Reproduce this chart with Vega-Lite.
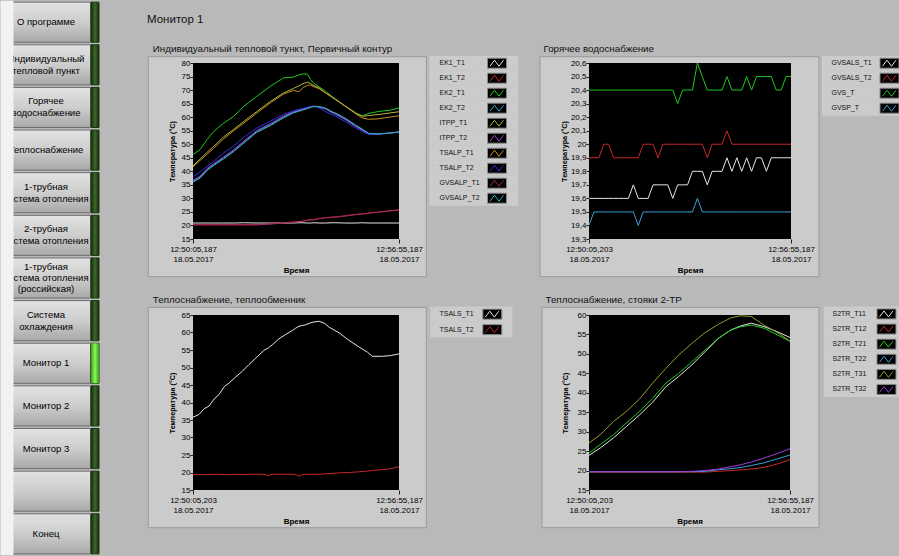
{
  "$schema": "https://vega.github.io/schema/vega-lite/v6.json",
  "background": "#b9b9b9",
  "padding": 0,
  "bounds": "flush",
  "spacing": 94,
  "resolve": {"scale": {"x": "independent", "y": "independent", "color": "independent"}},
  "config": {
    "view": {"stroke": null},
    "font": "Liberation Sans",
    "axis": {"labelFont": "Liberation Sans", "labelFontSize": 8, "labelColor": "#000", "titleFont": "Liberation Sans", "titleFontSize": 8, "titleFontWeight": "bold", "titleColor": "#000", "tickColor": "#202020", "domain": false, "grid": false, "zindex": 2, "labelOverlap": false, "labelBound": false},
    "axisY": {"titleFontSize": 7.2},
    "title": {"color": "#111", "fontWeight": "normal", "font": "Liberation Sans"}
  },
  "datasets": {
    "c1": [
      {"t":0,"EK1_T1":20.9,"EK1_T2":20.3,"EK2_T1":46.2,"EK2_T2":36.3,"ITPP_T1":42.0,"ITPP_T2":36.7,"TSALP_T1":41.6,"TSALP_T2":38.0,"GVSALP_T1":20.2,"GVSALP_T2":36.0},
      {"t":14,"EK1_T1":20.9,"EK1_T2":20.3,"EK2_T1":48.0,"EK2_T2":37.8,"ITPP_T1":44.5,"ITPP_T2":38.2,"TSALP_T1":44.0,"TSALP_T2":39.8,"GVSALP_T1":20.2,"GVSALP_T2":37.5},
      {"t":28,"EK1_T1":20.9,"EK1_T2":20.3,"EK2_T1":51.7,"EK2_T2":40.6,"ITPP_T1":47.0,"ITPP_T2":41.0,"TSALP_T1":46.3,"TSALP_T2":41.8,"GVSALP_T1":20.2,"GVSALP_T2":40.3},
      {"t":41,"EK1_T1":20.9,"EK1_T2":20.3,"EK2_T1":54.7,"EK2_T2":42.4,"ITPP_T1":49.2,"ITPP_T2":42.8,"TSALP_T1":48.5,"TSALP_T2":43.6,"GVSALP_T1":20.2,"GVSALP_T2":42.1},
      {"t":61,"EK1_T1":20.9,"EK1_T2":20.3,"EK2_T1":57.8,"EK2_T2":44.9,"ITPP_T1":52.7,"ITPP_T2":45.3,"TSALP_T1":52.0,"TSALP_T2":46.8,"GVSALP_T1":20.2,"GVSALP_T2":44.6},
      {"t":81,"EK1_T1":20.9,"EK1_T2":20.3,"EK2_T1":60.3,"EK2_T2":47.6,"ITPP_T1":55.5,"ITPP_T2":48.0,"TSALP_T1":55.0,"TSALP_T2":49.3,"GVSALP_T1":20.2,"GVSALP_T2":47.3},
      {"t":101,"EK1_T1":21.0,"EK1_T2":20.3,"EK2_T1":64.0,"EK2_T2":50.7,"ITPP_T1":58.4,"ITPP_T2":51.1,"TSALP_T1":57.8,"TSALP_T2":52.6,"GVSALP_T1":20.2,"GVSALP_T2":50.4},
      {"t":127,"EK1_T1":20.9,"EK1_T2":20.3,"EK2_T1":67.7,"EK2_T2":54.7,"ITPP_T1":62.1,"ITPP_T2":55.1,"TSALP_T1":61.5,"TSALP_T2":56.0,"GVSALP_T1":20.2,"GVSALP_T2":54.4},
      {"t":154,"EK1_T1":20.9,"EK1_T2":20.6,"EK2_T1":71.4,"EK2_T2":57.2,"ITPP_T1":65.8,"ITPP_T2":57.6,"TSALP_T1":65.3,"TSALP_T2":58.5,"GVSALP_T1":20.5,"GVSALP_T2":56.9},
      {"t":180,"EK1_T1":20.9,"EK1_T2":21.0,"EK2_T1":74.5,"EK2_T2":60.0,"ITPP_T1":68.9,"ITPP_T2":60.4,"TSALP_T1":68.5,"TSALP_T2":61.0,"GVSALP_T1":20.9,"GVSALP_T2":59.7},
      {"t":200,"EK1_T1":20.9,"EK1_T2":21.3,"EK2_T1":74.8,"EK2_T2":61.8,"ITPP_T1":70.6,"ITPP_T2":62.1,"TSALP_T1":69.9,"TSALP_T2":62.3,"GVSALP_T1":21.2,"GVSALP_T2":61.6},
      {"t":211,"EK1_T1":21.0,"EK1_T2":21.5,"EK2_T1":75.6,"EK2_T2":62.4,"ITPP_T1":71.6,"ITPP_T2":62.6,"TSALP_T1":69.4,"TSALP_T2":62.9,"GVSALP_T1":21.4,"GVSALP_T2":62.2},
      {"t":218,"EK1_T1":21.0,"EK1_T2":21.6,"EK2_T1":76.0,"EK2_T2":62.8,"ITPP_T1":72.3,"ITPP_T2":63.0,"TSALP_T1":70.8,"TSALP_T2":63.2,"GVSALP_T1":21.5,"GVSALP_T2":62.6},
      {"t":228,"EK1_T1":20.9,"EK1_T2":22.0,"EK2_T1":75.8,"EK2_T2":63.4,"ITPP_T1":72.9,"ITPP_T2":63.6,"TSALP_T1":71.8,"TSALP_T2":63.6,"GVSALP_T1":21.9,"GVSALP_T2":63.2},
      {"t":234,"EK1_T1":20.9,"EK1_T2":22.1,"EK2_T1":73.9,"EK2_T2":63.8,"ITPP_T1":72.4,"ITPP_T2":63.9,"TSALP_T1":71.8,"TSALP_T2":63.9,"GVSALP_T1":22.0,"GVSALP_T2":63.6},
      {"t":241,"EK1_T1":21.0,"EK1_T2":22.2,"EK2_T1":72.4,"EK2_T2":64.0,"ITPP_T1":71.6,"ITPP_T2":64.1,"TSALP_T1":71.2,"TSALP_T2":64.0,"GVSALP_T1":22.1,"GVSALP_T2":63.9},
      {"t":251,"EK1_T1":20.9,"EK1_T2":22.6,"EK2_T1":71.2,"EK2_T2":63.8,"ITPP_T1":70.8,"ITPP_T2":63.7,"TSALP_T1":70.5,"TSALP_T2":63.4,"GVSALP_T1":22.5,"GVSALP_T2":63.9},
      {"t":264,"EK1_T1":20.9,"EK1_T2":22.9,"EK2_T1":69.5,"EK2_T2":63.2,"ITPP_T1":69.0,"ITPP_T2":63.0,"TSALP_T1":68.9,"TSALP_T2":62.0,"GVSALP_T1":22.8,"GVSALP_T2":63.3},
      {"t":277,"EK1_T1":21.0,"EK1_T2":23.1,"EK2_T1":67.6,"EK2_T2":61.8,"ITPP_T1":67.4,"ITPP_T2":61.6,"TSALP_T1":67.3,"TSALP_T2":60.9,"GVSALP_T1":23.0,"GVSALP_T2":62.0},
      {"t":284,"EK1_T1":21.0,"EK1_T2":23.2,"EK2_T1":66.6,"EK2_T2":61.3,"ITPP_T1":66.5,"ITPP_T2":61.0,"TSALP_T1":66.4,"TSALP_T2":60.3,"GVSALP_T1":23.1,"GVSALP_T2":61.5},
      {"t":304,"EK1_T1":20.9,"EK1_T2":23.6,"EK2_T1":64.0,"EK2_T2":59.3,"ITPP_T1":64.0,"ITPP_T2":59.0,"TSALP_T1":63.9,"TSALP_T2":58.3,"GVSALP_T1":23.5,"GVSALP_T2":59.5},
      {"t":324,"EK1_T1":20.9,"EK1_T2":24.1,"EK2_T1":61.5,"EK2_T2":56.8,"ITPP_T1":61.5,"ITPP_T2":56.5,"TSALP_T1":61.2,"TSALP_T2":56.0,"GVSALP_T1":24.0,"GVSALP_T2":57.0},
      {"t":337,"EK1_T1":21.0,"EK1_T2":24.3,"EK2_T1":60.5,"EK2_T2":55.4,"ITPP_T1":60.3,"ITPP_T2":55.1,"TSALP_T1":59.7,"TSALP_T2":54.7,"GVSALP_T1":24.2,"GVSALP_T2":55.6},
      {"t":350,"EK1_T1":20.9,"EK1_T2":24.6,"EK2_T1":61.4,"EK2_T2":53.9,"ITPP_T1":60.6,"ITPP_T2":53.7,"TSALP_T1":59.2,"TSALP_T2":53.6,"GVSALP_T1":24.5,"GVSALP_T2":54.0},
      {"t":370,"EK1_T1":20.9,"EK1_T2":25.0,"EK2_T1":62.1,"EK2_T2":53.8,"ITPP_T1":61.0,"ITPP_T2":53.8,"TSALP_T1":59.4,"TSALP_T2":53.8,"GVSALP_T1":24.9,"GVSALP_T2":53.8},
      {"t":390,"EK1_T1":20.9,"EK1_T2":25.4,"EK2_T1":62.5,"EK2_T2":54.1,"ITPP_T1":61.5,"ITPP_T2":54.1,"TSALP_T1":60.0,"TSALP_T2":54.1,"GVSALP_T1":25.3,"GVSALP_T2":54.1},
      {"t":410,"EK1_T1":20.9,"EK1_T2":25.8,"EK2_T1":63.4,"EK2_T2":54.5,"ITPP_T1":62.0,"ITPP_T2":54.5,"TSALP_T1":60.5,"TSALP_T2":54.5,"GVSALP_T1":25.7,"GVSALP_T2":54.5}
    ],
    "c2": [
      {"t":0,"GVSALS_T1":19.6,"GVSALS_T2":19.9,"GVS_T":20.4,"GVSP_T":19.4},
      {"t":10,"GVSALS_T1":19.6,"GVSALS_T2":19.9,"GVS_T":20.4,"GVSP_T":19.5},
      {"t":20,"GVSALS_T1":19.6,"GVSALS_T2":19.9,"GVS_T":20.4,"GVSP_T":19.5},
      {"t":30,"GVSALS_T1":19.6,"GVSALS_T2":20.0,"GVS_T":20.4,"GVSP_T":19.5},
      {"t":40,"GVSALS_T1":19.6,"GVSALS_T2":20.0,"GVS_T":20.4,"GVSP_T":19.5},
      {"t":50,"GVSALS_T1":19.6,"GVSALS_T2":19.9,"GVS_T":20.4,"GVSP_T":19.5},
      {"t":60,"GVSALS_T1":19.6,"GVSALS_T2":19.9,"GVS_T":20.4,"GVSP_T":19.5},
      {"t":70,"GVSALS_T1":19.6,"GVSALS_T2":19.9,"GVS_T":20.4,"GVSP_T":19.5},
      {"t":80,"GVSALS_T1":19.6,"GVSALS_T2":19.9,"GVS_T":20.4,"GVSP_T":19.5},
      {"t":90,"GVSALS_T1":19.7,"GVSALS_T2":19.9,"GVS_T":20.4,"GVSP_T":19.5},
      {"t":100,"GVSALS_T1":19.6,"GVSALS_T2":19.9,"GVS_T":20.4,"GVSP_T":19.4},
      {"t":110,"GVSALS_T1":19.6,"GVSALS_T2":20.0,"GVS_T":20.4,"GVSP_T":19.5},
      {"t":120,"GVSALS_T1":19.6,"GVSALS_T2":20.0,"GVS_T":20.4,"GVSP_T":19.5},
      {"t":130,"GVSALS_T1":19.7,"GVSALS_T2":20.0,"GVS_T":20.4,"GVSP_T":19.5},
      {"t":140,"GVSALS_T1":19.7,"GVSALS_T2":19.9,"GVS_T":20.4,"GVSP_T":19.5},
      {"t":150,"GVSALS_T1":19.7,"GVSALS_T2":20.0,"GVS_T":20.4,"GVSP_T":19.5},
      {"t":160,"GVSALS_T1":19.7,"GVSALS_T2":20.0,"GVS_T":20.4,"GVSP_T":19.5},
      {"t":170,"GVSALS_T1":19.6,"GVSALS_T2":20.0,"GVS_T":20.4,"GVSP_T":19.5},
      {"t":180,"GVSALS_T1":19.7,"GVSALS_T2":20.0,"GVS_T":20.3,"GVSP_T":19.5},
      {"t":190,"GVSALS_T1":19.7,"GVSALS_T2":20.0,"GVS_T":20.4,"GVSP_T":19.5},
      {"t":200,"GVSALS_T1":19.7,"GVSALS_T2":20.0,"GVS_T":20.4,"GVSP_T":19.5},
      {"t":210,"GVSALS_T1":19.8,"GVSALS_T2":20.0,"GVS_T":20.4,"GVSP_T":19.5},
      {"t":220,"GVSALS_T1":19.8,"GVSALS_T2":20.0,"GVS_T":20.6,"GVSP_T":19.6},
      {"t":230,"GVSALS_T1":19.8,"GVSALS_T2":20.0,"GVS_T":20.5,"GVSP_T":19.5},
      {"t":240,"GVSALS_T1":19.7,"GVSALS_T2":19.9,"GVS_T":20.4,"GVSP_T":19.5},
      {"t":250,"GVSALS_T1":19.8,"GVSALS_T2":20.0,"GVS_T":20.4,"GVSP_T":19.5},
      {"t":260,"GVSALS_T1":19.8,"GVSALS_T2":20.0,"GVS_T":20.4,"GVSP_T":19.5},
      {"t":270,"GVSALS_T1":19.8,"GVSALS_T2":20.0,"GVS_T":20.4,"GVSP_T":19.5},
      {"t":280,"GVSALS_T1":19.9,"GVSALS_T2":20.1,"GVS_T":20.5,"GVSP_T":19.5},
      {"t":290,"GVSALS_T1":19.8,"GVSALS_T2":20.0,"GVS_T":20.4,"GVSP_T":19.5},
      {"t":300,"GVSALS_T1":19.9,"GVSALS_T2":20.0,"GVS_T":20.4,"GVSP_T":19.5},
      {"t":310,"GVSALS_T1":19.8,"GVSALS_T2":20.0,"GVS_T":20.4,"GVSP_T":19.5},
      {"t":320,"GVSALS_T1":19.9,"GVSALS_T2":20.0,"GVS_T":20.5,"GVSP_T":19.5},
      {"t":330,"GVSALS_T1":19.8,"GVSALS_T2":20.0,"GVS_T":20.4,"GVSP_T":19.5},
      {"t":340,"GVSALS_T1":19.9,"GVSALS_T2":20.0,"GVS_T":20.5,"GVSP_T":19.5},
      {"t":350,"GVSALS_T1":19.9,"GVSALS_T2":20.0,"GVS_T":20.5,"GVSP_T":19.5},
      {"t":360,"GVSALS_T1":19.8,"GVSALS_T2":20.0,"GVS_T":20.5,"GVSP_T":19.5},
      {"t":370,"GVSALS_T1":19.9,"GVSALS_T2":20.0,"GVS_T":20.5,"GVSP_T":19.5},
      {"t":380,"GVSALS_T1":19.9,"GVSALS_T2":20.0,"GVS_T":20.4,"GVSP_T":19.5},
      {"t":390,"GVSALS_T1":19.9,"GVSALS_T2":20.0,"GVS_T":20.4,"GVSP_T":19.5},
      {"t":400,"GVSALS_T1":19.9,"GVSALS_T2":20.0,"GVS_T":20.5,"GVSP_T":19.5},
      {"t":410,"GVSALS_T1":19.9,"GVSALS_T2":20.0,"GVS_T":20.5,"GVSP_T":19.5}
    ],
    "c3": [
      {"t":0,"TSALS_T1":35.8,"TSALS_T2":19.4},{"t":12,"TSALS_T1":36.6,"TSALS_T2":19.4},{"t":22,"TSALS_T1":38.2,"TSALS_T2":19.4},{"t":32,"TSALS_T1":39.0,"TSALS_T2":19.4},
      {"t":42,"TSALS_T1":41.0,"TSALS_T2":19.5},{"t":52,"TSALS_T1":42.3,"TSALS_T2":19.5},{"t":62,"TSALS_T1":44.5,"TSALS_T2":19.4},{"t":72,"TSALS_T1":45.6,"TSALS_T2":19.4},
      {"t":85,"TSALS_T1":47.3,"TSALS_T2":19.5},{"t":98,"TSALS_T1":48.9,"TSALS_T2":19.4},{"t":111,"TSALS_T1":50.8,"TSALS_T2":19.5},{"t":125,"TSALS_T1":52.7,"TSALS_T2":19.5},
      {"t":141,"TSALS_T1":54.9,"TSALS_T2":19.5},{"t":150,"TSALS_T1":55.6,"TSALS_T2":19.1},{"t":158,"TSALS_T1":56.5,"TSALS_T2":19.5},{"t":171,"TSALS_T1":58.2,"TSALS_T2":19.5},
      {"t":184,"TSALS_T1":59.4,"TSALS_T2":19.5},{"t":198,"TSALS_T1":60.6,"TSALS_T2":19.5},{"t":204,"TSALS_T1":61.2,"TSALS_T2":19.4},{"t":211,"TSALS_T1":61.8,"TSALS_T2":19.0},
      {"t":218,"TSALS_T1":62.0,"TSALS_T2":19.4},{"t":224,"TSALS_T1":62.2,"TSALS_T2":19.5},{"t":237,"TSALS_T1":62.9,"TSALS_T2":19.5},{"t":251,"TSALS_T1":63.2,"TSALS_T2":19.5},
      {"t":261,"TSALS_T1":62.7,"TSALS_T2":19.6},{"t":271,"TSALS_T1":61.5,"TSALS_T2":19.7},{"t":291,"TSALS_T1":59.9,"TSALS_T2":19.9},{"t":310,"TSALS_T1":57.8,"TSALS_T2":20.0},
      {"t":330,"TSALS_T1":55.9,"TSALS_T2":20.2},{"t":347,"TSALS_T1":54.4,"TSALS_T2":20.4},{"t":357,"TSALS_T1":53.2,"TSALS_T2":20.6},{"t":377,"TSALS_T1":53.2,"TSALS_T2":20.8},
      {"t":393,"TSALS_T1":53.4,"TSALS_T2":21.1},{"t":410,"TSALS_T1":53.9,"TSALS_T2":21.6}
    ],
    "c4": [
      {"t":0,"S2TR_T11":23.9,"S2TR_T12":19.6,"S2TR_T21":24.5,"S2TR_T22":19.7,"S2TR_T31":27.1,"S2TR_T32":19.7},
      {"t":23,"S2TR_T11":25.8,"S2TR_T12":19.6,"S2TR_T21":26.7,"S2TR_T22":19.7,"S2TR_T31":29.2,"S2TR_T32":19.7},
      {"t":50,"S2TR_T11":28.4,"S2TR_T12":19.6,"S2TR_T21":29.2,"S2TR_T22":19.7,"S2TR_T31":32.6,"S2TR_T32":19.7},
      {"t":76,"S2TR_T11":31.3,"S2TR_T12":19.6,"S2TR_T21":32.2,"S2TR_T22":19.7,"S2TR_T31":35.2,"S2TR_T32":19.7},
      {"t":103,"S2TR_T11":34.3,"S2TR_T12":19.6,"S2TR_T21":35.2,"S2TR_T22":19.7,"S2TR_T31":38.4,"S2TR_T32":19.7},
      {"t":130,"S2TR_T11":37.6,"S2TR_T12":19.6,"S2TR_T21":38.6,"S2TR_T22":19.7,"S2TR_T31":42.5,"S2TR_T32":19.7},
      {"t":157,"S2TR_T11":41.6,"S2TR_T12":19.6,"S2TR_T21":42.5,"S2TR_T22":19.7,"S2TR_T31":46.3,"S2TR_T32":19.7},
      {"t":183,"S2TR_T11":44.2,"S2TR_T12":19.6,"S2TR_T21":45.0,"S2TR_T22":19.7,"S2TR_T31":49.7,"S2TR_T32":19.7},
      {"t":210,"S2TR_T11":47.2,"S2TR_T12":19.6,"S2TR_T21":48.0,"S2TR_T22":19.7,"S2TR_T31":52.7,"S2TR_T32":19.8},
      {"t":237,"S2TR_T11":50.6,"S2TR_T12":19.6,"S2TR_T21":51.0,"S2TR_T22":19.8,"S2TR_T31":55.5,"S2TR_T32":20.0},
      {"t":264,"S2TR_T11":54.0,"S2TR_T12":19.8,"S2TR_T21":54.0,"S2TR_T22":20.2,"S2TR_T31":57.6,"S2TR_T32":20.4},
      {"t":290,"S2TR_T11":56.2,"S2TR_T12":20.0,"S2TR_T21":56.2,"S2TR_T22":20.5,"S2TR_T31":59.3,"S2TR_T32":21.0},
      {"t":310,"S2TR_T11":57.2,"S2TR_T12":20.2,"S2TR_T21":57.0,"S2TR_T22":20.8,"S2TR_T31":59.8,"S2TR_T32":21.5},
      {"t":331,"S2TR_T11":57.9,"S2TR_T12":20.4,"S2TR_T21":57.4,"S2TR_T22":21.3,"S2TR_T31":59.6,"S2TR_T32":22.2},
      {"t":357,"S2TR_T11":57.0,"S2TR_T12":20.8,"S2TR_T21":56.6,"S2TR_T22":22.0,"S2TR_T31":57.4,"S2TR_T32":23.2},
      {"t":384,"S2TR_T11":55.7,"S2TR_T12":21.7,"S2TR_T21":54.9,"S2TR_T22":23.0,"S2TR_T31":55.5,"S2TR_T32":24.4},
      {"t":410,"S2TR_T11":54.2,"S2TR_T12":22.8,"S2TR_T21":53.2,"S2TR_T22":24.0,"S2TR_T31":53.3,"S2TR_T32":25.6}
    ],
    "menu": [
      {"id":"1","lbl":"О программе","on":0},
      {"id":"2","lbl":"Индивидуальный\nтепловой пункт","on":0},
      {"id":"3","lbl":"Горячее\nводоснабжение","on":0},
      {"id":"4","lbl":"Теплоснабжение","on":0},
      {"id":"5","lbl":"1-трубная\nсистема отопления","on":0},
      {"id":"6","lbl":"2-трубная\nсистема отопления","on":0},
      {"id":"7","lbl":"1-трубная\nсистема отопления\n(российская)","on":0},
      {"id":"8","lbl":"Система\nохлаждения","on":0},
      {"id":"9","lbl":"Монитор 1","on":1},
      {"id":"10","lbl":"Монитор 2","on":0},
      {"id":"11","lbl":"Монитор 3","on":0},
      {"id":"12","lbl":"","on":0},
      {"id":"13","lbl":"Конец","on":0}
    ]
  },
  "hconcat": [
    {
      "width": 97,
      "height": 429,
      "title": {"text": "Монитор 1", "anchor": "start", "frame": "group", "dx": 145, "offset": -25, "fontSize": 11.5, "color": "#111"},
      "data": {"name": "menu"},
      "encoding": {
        "y": {"field": "id", "type": "nominal", "axis": null, "scale": {"type": "band", "domain": ["1","2","3","4","5","6","7","8","9","10","11","12","13"], "range": [-63, 493], "paddingInner": 0.06, "paddingOuter": 0.05}}
      },
      "layer": [
        {"mark": {"type": "rect", "stroke": "#6e6e6e", "strokeWidth": 1, "fill": {"gradient": "linear", "x1": 0, "y1": 0, "x2": 0, "y2": 1, "stops": [{"offset": 0, "color": "#e2e2e2"}, {"offset": 0.5, "color": "#cdcdcd"}, {"offset": 1, "color": "#a9a9a9"}]}},
         "encoding": {"x": {"datum": 10.5, "type": "quantitative", "scale": {"domain": [0, 97], "nice": false, "zero": false}, "axis": null}, "x2": {"datum": 88.5}}},
        {"transform": [{"filter": "length(split(datum.lbl, '\\n')) == 1"}],
         "mark": {"type": "text", "fontSize": 9.5, "color": "#000", "baseline": "middle", "align": "center"},
         "encoding": {"x": {"datum": 44, "type": "quantitative"}, "text": {"field": "lbl"}}},
        {"transform": [{"filter": "length(split(datum.lbl, '\\n')) == 2"}],
         "mark": {"type": "text", "fontSize": 9.5, "lineBreak": "\n", "lineHeight": 12, "dy": -6, "color": "#000", "baseline": "middle", "align": "center"},
         "encoding": {"x": {"datum": 44, "type": "quantitative"}, "text": {"field": "lbl"}}},
        {"transform": [{"filter": "length(split(datum.lbl, '\\n')) == 3"}],
         "mark": {"type": "text", "fontSize": 9.5, "lineBreak": "\n", "lineHeight": 11, "dy": -11, "color": "#000", "baseline": "middle", "align": "center"},
         "encoding": {"x": {"datum": 44, "type": "quantitative"}, "text": {"field": "lbl"}}},
        {"mark": {"type": "rect", "fill": "#f2f2f2", "stroke": "#f2f2f2", "strokeWidth": 3},
         "encoding": {"x": {"datum": 0, "type": "quantitative"}, "x2": {"datum": 10}}},
        {"mark": {"type": "rect", "stroke": "#1c3410", "strokeWidth": 1, "fill": {"gradient": "linear", "x1": 0, "y1": 0, "x2": 1, "y2": 0, "stops": [{"offset": 0, "color": "#142a0c"}, {"offset": 0.5, "color": "#3d6a28"}, {"offset": 1, "color": "#142a0c"}]}},
         "encoding": {"x": {"datum": 89, "type": "quantitative"}, "x2": {"datum": 97}}},
        {"transform": [{"filter": "datum.on == 1"}],
         "mark": {"type": "rect", "fill": {"gradient": "linear", "x1": 0, "y1": 0, "x2": 1, "y2": 0, "stops": [{"offset": 0, "color": "#3a9a18"}, {"offset": 0.5, "color": "#86ff50"}, {"offset": 1, "color": "#3a9a18"}]}},
         "encoding": {"x": {"datum": 89, "type": "quantitative"}, "x2": {"datum": 97}}}
      ]
    },
    {
      "concat": [
        {
          "width": 206, "height": 176,
          "title": {"text": "Индивидуальный тепловой тункт, Первичный контур", "anchor": "start", "frame": "bounds", "dx": 5, "offset": 2, "fontSize": 9.8},
          "resolve": {"scale": {"y": "independent"}},
          "layer": [
            {"layer": [
              {"data": {"values": [{}]}, "mark": {"type": "rect", "fill": "#cbcbcb", "stroke": "#9a9a9a", "strokeWidth": 1},
               "encoding": {
                 "x": {"datum": -89, "type": "quantitative", "title": "Время", "scale": {"domain": [0, 410], "nice": false, "zero": false},
                       "axis": {"zindex": 2, "values": [0, 410], "tickCount": 50, "labelExpr": "datum.value < 1 ? ['12:50:05,187', '18.05.2017'] : ['12:56:55,187', '18.05.2017']", "labelFlush": false, "labelOverlap": false, "tickSize": 4, "labelPadding": 2, "labelLineHeight": 10, "titlePadding": 3}},
                 "x2": {"datum": 464.4},
                 "y": {"datum": 82.33, "type": "quantitative", "title": "Температура (°C)", "scale": {"domain": [15, 80], "nice": false, "zero": false},
                       "axis": {"zindex": 2, "values": [15,20,25,30,35,40,45,50,55,60,65,70,75,80], "tickCount": 50, "tickSize": 3, "labelPadding": 0, "titlePadding": 5, "titleFontSize": 7.2, "labelOverlap": false}},
                 "y2": {"datum": 1.08}}},
              {"data": {"values": [{}]}, "mark": {"type": "rect", "fill": "#000"},
               "encoding": {"x": {"datum": 0, "type": "quantitative"}, "x2": {"datum": 410}, "y": {"datum": 15, "type": "quantitative"}, "y2": {"datum": 80}}},
              {"data": {"name": "c1"},
               "transform": [{"fold": ["EK1_T1","EK1_T2","EK2_T1","EK2_T2","ITPP_T1","ITPP_T2","TSALP_T1","TSALP_T2","GVSALP_T1","GVSALP_T2"], "as": ["s", "v"]}],
               "mark": {"type": "line", "strokeWidth": 1},
               "encoding": {
                 "x": {"field": "t", "type": "quantitative", "title": "Время"},
                 "y": {"field": "v", "type": "quantitative", "title": "Температура (°C)"},
                 "color": {"field": "s", "type": "nominal", "legend": null, "scale": {"domain": ["EK1_T1","EK1_T2","EK2_T1","EK2_T2","ITPP_T1","ITPP_T2","TSALP_T1","TSALP_T2","GVSALP_T1","GVSALP_T2"], "range": ["#e6e6e6","#c82828","#1ec81e","#38a0d8","#b4b43c","#a43cdc","#c88c1e","#3232dc","#a02870","#32b4b4"]}}
               }}
            ]},
            {"data": {"values": [{"s":"EK1_T1"},{"s":"EK1_T2"},{"s":"EK2_T1"},{"s":"EK2_T2"},{"s":"ITPP_T1"},{"s":"ITPP_T2"},{"s":"TSALP_T1"},{"s":"TSALP_T2"},{"s":"GVSALP_T1"},{"s":"GVSALP_T2"}]},
             "encoding": {"y": {"field": "s", "type": "nominal", "axis": null, "scale": {"type": "band", "domain": ["EK1_T1","EK1_T2","EK2_T1","EK2_T2","ITPP_T1","ITPP_T2","TSALP_T1","TSALP_T2","GVSALP_T1","GVSALP_T2"], "range": [-7.3, 142.7], "paddingInner": 0, "paddingOuter": 0}}},
             "layer": [
               {"mark": {"type": "rect", "fill": "#cbcbcb"}, "encoding": {"x": {"datum": 470.3, "type": "quantitative"}, "x2": {"datum": 647.5}}},
               {"mark": {"type": "text", "align": "left", "baseline": "middle", "fontSize": 7, "color": "#111"}, "encoding": {"x": {"datum": 490.6, "type": "quantitative"}, "text": {"field": "s"}}},
               {"mark": {"type": "point", "shape": "M-0.95,-0.5L0.95,-0.5L0.95,0.5L-0.95,0.5Z", "size": 400, "filled": true, "fill": "#000", "stroke": "#8a8a8a", "strokeWidth": 1, "opacity": 1}, "encoding": {"x": {"datum": 605.1, "type": "quantitative"}}},
               {"mark": {"type": "point", "shape": "M-0.7,0.3L-0.25,-0.3L0.2,0.3L0.65,-0.3", "size": 400, "filled": false, "strokeWidth": 1, "opacity": 1}, "encoding": {"x": {"datum": 605.1, "type": "quantitative"}, "color": {"field": "s", "type": "nominal", "legend": null}}}
             ]}
          ]
        },
        {
          "width": 202, "height": 176,
          "title": {"text": "Горячее водоснабжение", "anchor": "start", "frame": "bounds", "dx": 4, "offset": 2, "fontSize": 9.8},
          "resolve": {"scale": {"y": "independent"}},
          "layer": [
            {"layer": [
              {"data": {"values": [{}]}, "mark": {"type": "rect", "fill": "#cbcbcb", "stroke": "#9a9a9a", "strokeWidth": 1},
               "encoding": {
                 "x": {"datum": -99.5, "type": "quantitative", "title": "Время", "scale": {"domain": [0, 410], "nice": false, "zero": false},
                       "axis": {"zindex": 2, "values": [0, 410], "tickCount": 50, "labelExpr": "datum.value < 1 ? ['12:50:05,203', '18.05.2017'] : ['12:56:55,187', '18.05.2017']", "labelFlush": false, "labelOverlap": false, "tickSize": 4, "labelPadding": 2, "labelLineHeight": 10, "titlePadding": 3}},
                 "x2": {"datum": 466.8},
                 "y": {"datum": 20.6465, "type": "quantitative", "title": "Температура (°C)", "scale": {"domain": [19.3, 20.6], "nice": false, "zero": false},
                       "axis": {"zindex": 2, "values": [19.3,19.4,19.5,19.6,19.7,19.8,19.9,20,20.1,20.2,20.3,20.4,20.5,20.6], "tickCount": 50, "labelExpr": "replace(format(datum.value, '.3~g'), '.', ',')", "tickSize": 3, "labelPadding": 0, "titlePadding": 2, "titleFontSize": 7.2, "labelOverlap": false}},
                 "y2": {"datum": 19.0216}}},
              {"data": {"values": [{}]}, "mark": {"type": "rect", "fill": "#000"},
               "encoding": {"x": {"datum": 0, "type": "quantitative"}, "x2": {"datum": 410}, "y": {"datum": 19.3, "type": "quantitative"}, "y2": {"datum": 20.6}}},
              {"data": {"name": "c2"},
               "transform": [{"fold": ["GVSALS_T1","GVSALS_T2","GVS_T","GVSP_T"], "as": ["s", "v"]}],
               "mark": {"type": "line", "strokeWidth": 1},
               "encoding": {
                 "x": {"field": "t", "type": "quantitative", "title": "Время"},
                 "y": {"field": "v", "type": "quantitative", "title": "Температура (°C)"},
                 "color": {"field": "s", "type": "nominal", "legend": null, "scale": {"domain": ["GVSALS_T1","GVSALS_T2","GVS_T","GVSP_T"], "range": ["#e6e6e6","#c82828","#1ec81e","#38a0d8"]}}
               }}
            ]},
            {"data": {"values": [{"s":"GVSALS_T1"},{"s":"GVSALS_T2"},{"s":"GVS_T"},{"s":"GVSP_T"}]},
             "encoding": {"y": {"field": "s", "type": "nominal", "axis": null, "scale": {"type": "band", "domain": ["GVSALS_T1","GVSALS_T2","GVS_T","GVSP_T"], "range": [-7.3, 52.7], "paddingInner": 0, "paddingOuter": 0}}},
             "layer": [
               {"mark": {"type": "rect", "fill": "#cbcbcb"}, "encoding": {"x": {"datum": 472.9, "type": "quantitative"}, "x2": {"datum": 632.3}}},
               {"mark": {"type": "text", "align": "left", "baseline": "middle", "fontSize": 7, "color": "#111"}, "encoding": {"x": {"datum": 492.2, "type": "quantitative"}, "text": {"field": "s"}}},
               {"mark": {"type": "point", "shape": "M-0.95,-0.5L0.95,-0.5L0.95,0.5L-0.95,0.5Z", "size": 400, "filled": true, "fill": "#000", "stroke": "#8a8a8a", "strokeWidth": 1, "opacity": 1}, "encoding": {"x": {"datum": 609.9, "type": "quantitative"}}},
               {"mark": {"type": "point", "shape": "M-0.7,0.3L-0.25,-0.3L0.2,0.3L0.65,-0.3", "size": 400, "filled": false, "strokeWidth": 1, "opacity": 1}, "encoding": {"x": {"datum": 609.9, "type": "quantitative"}, "color": {"field": "s", "type": "nominal", "legend": null}}}
             ]}
          ]
        },
        {
          "width": 206, "height": 175,
          "title": {"text": "Теплоснабжение, теплообменник", "anchor": "start", "frame": "bounds", "dx": 5, "offset": 2, "fontSize": 9.8},
          "resolve": {"scale": {"y": "independent"}},
          "layer": [
            {"layer": [
              {"data": {"values": [{}]}, "mark": {"type": "rect", "fill": "#cbcbcb", "stroke": "#9a9a9a", "strokeWidth": 1},
               "encoding": {
                 "x": {"datum": -89, "type": "quantitative", "title": "Время", "scale": {"domain": [0, 410], "nice": false, "zero": false},
                       "axis": {"zindex": 2, "values": [0, 410], "tickCount": 50, "labelExpr": "datum.value < 1 ? ['12:50:05,203', '18.05.2017'] : ['12:56:55,187', '18.05.2017']", "labelFlush": false, "labelOverlap": false, "tickSize": 4, "labelPadding": 2, "labelLineHeight": 10, "titlePadding": 3}},
                 "x2": {"datum": 464.4},
                 "y": {"datum": 67.17, "type": "quantitative", "title": "Температура (°C)", "scale": {"domain": [15, 65], "nice": false, "zero": false},
                       "axis": {"zindex": 2, "values": [15,20,25,30,35,40,45,50,55,60,65], "tickCount": 50, "tickSize": 3, "labelPadding": 0, "titlePadding": 5, "titleFontSize": 7.2, "labelOverlap": false}},
                 "y2": {"datum": 4.23}}},
              {"data": {"values": [{}]}, "mark": {"type": "rect", "fill": "#000"},
               "encoding": {"x": {"datum": 0, "type": "quantitative"}, "x2": {"datum": 410}, "y": {"datum": 15, "type": "quantitative"}, "y2": {"datum": 65}}},
              {"data": {"name": "c3"},
               "transform": [{"fold": ["TSALS_T1","TSALS_T2"], "as": ["s", "v"]}],
               "mark": {"type": "line", "strokeWidth": 1},
               "encoding": {
                 "x": {"field": "t", "type": "quantitative", "title": "Время"},
                 "y": {"field": "v", "type": "quantitative", "title": "Температура (°C)"},
                 "color": {"field": "s", "type": "nominal", "legend": null, "scale": {"domain": ["TSALS_T1","TSALS_T2"], "range": ["#e6e6e6","#c82828"]}}
               }}
            ]},
            {"data": {"values": [{"s":"TSALS_T1"},{"s":"TSALS_T2"}]},
             "encoding": {"y": {"field": "s", "type": "nominal", "axis": null, "scale": {"type": "band", "domain": ["TSALS_T1","TSALS_T2"], "range": [-8.6, 22.4], "paddingInner": 0, "paddingOuter": 0}}},
             "layer": [
               {"mark": {"type": "rect", "fill": "#cbcbcb"}, "encoding": {"x": {"datum": 472.3, "type": "quantitative"}, "x2": {"datum": 635.5}}},
               {"mark": {"type": "text", "align": "left", "baseline": "middle", "fontSize": 7, "color": "#111"}, "encoding": {"x": {"datum": 490.6, "type": "quantitative"}, "text": {"field": "s"}}},
               {"mark": {"type": "point", "shape": "M-0.95,-0.5L0.95,-0.5L0.95,0.5L-0.95,0.5Z", "size": 400, "filled": true, "fill": "#000", "stroke": "#8a8a8a", "strokeWidth": 1, "opacity": 1}, "encoding": {"x": {"datum": 595.7, "type": "quantitative"}}},
               {"mark": {"type": "point", "shape": "M-0.7,0.3L-0.25,-0.3L0.2,0.3L0.65,-0.3", "size": 400, "filled": false, "strokeWidth": 1, "opacity": 1}, "encoding": {"x": {"datum": 595.7, "type": "quantitative"}, "color": {"field": "s", "type": "nominal", "legend": null}}}
             ]}
          ]
        },
        {
          "width": 201, "height": 175,
          "title": {"text": "Теплоснабжение, стояки 2-ТР", "anchor": "start", "frame": "bounds", "dx": 4, "offset": 2, "fontSize": 9.8},
          "resolve": {"scale": {"y": "independent"}},
          "layer": [
            {"layer": [
              {"data": {"values": [{}]}, "mark": {"type": "rect", "fill": "#cbcbcb", "stroke": "#9a9a9a", "strokeWidth": 1},
               "encoding": {
                 "x": {"datum": -95.9, "type": "quantitative", "title": "Время", "scale": {"domain": [0, 410], "nice": false, "zero": false},
                       "axis": {"zindex": 2, "values": [0, 410], "tickCount": 50, "labelExpr": "datum.value < 1 ? ['12:50:05,203', '18.05.2017'] : ['12:56:55,187', '18.05.2017']", "labelFlush": false, "labelOverlap": false, "tickSize": 4, "labelPadding": 2, "labelLineHeight": 10, "titlePadding": 3}},
                 "x2": {"datum": 469.2},
                 "y": {"datum": 61.95, "type": "quantitative", "title": "Температура (°C)", "scale": {"domain": [15, 60], "nice": false, "zero": false},
                       "axis": {"zindex": 2, "values": [15,20,25,30,35,40,45,50,55,60], "tickCount": 50, "tickSize": 3, "labelPadding": 0, "titlePadding": 8, "titleFontSize": 7.2, "labelOverlap": false}},
                 "y2": {"datum": 5.31}}},
              {"data": {"values": [{}]}, "mark": {"type": "rect", "fill": "#000"},
               "encoding": {"x": {"datum": 0, "type": "quantitative"}, "x2": {"datum": 410}, "y": {"datum": 15, "type": "quantitative"}, "y2": {"datum": 60}}},
              {"data": {"name": "c4"},
               "transform": [{"fold": ["S2TR_T11","S2TR_T12","S2TR_T21","S2TR_T22","S2TR_T31","S2TR_T32"], "as": ["s", "v"]}],
               "mark": {"type": "line", "strokeWidth": 1},
               "encoding": {
                 "x": {"field": "t", "type": "quantitative", "title": "Время"},
                 "y": {"field": "v", "type": "quantitative", "title": "Температура (°C)"},
                 "color": {"field": "s", "type": "nominal", "legend": null, "scale": {"domain": ["S2TR_T11","S2TR_T12","S2TR_T21","S2TR_T22","S2TR_T31","S2TR_T32"], "range": ["#e6e6e6","#c82828","#1ec81e","#38a0d8","#8ca028","#a43cdc"]}}
               }}
            ]},
            {"data": {"values": [{"s":"S2TR_T11"},{"s":"S2TR_T12"},{"s":"S2TR_T21"},{"s":"S2TR_T22"},{"s":"S2TR_T31"},{"s":"S2TR_T32"}]},
             "encoding": {"y": {"field": "s", "type": "nominal", "axis": null, "scale": {"type": "band", "domain": ["S2TR_T11","S2TR_T12","S2TR_T21","S2TR_T22","S2TR_T31","S2TR_T32"], "range": [-8.6, 82], "paddingInner": 0, "paddingOuter": 0}}},
             "layer": [
               {"mark": {"type": "rect", "fill": "#cbcbcb"}, "encoding": {"x": {"datum": 479.4, "type": "quantitative"}, "x2": {"datum": 634.4}}},
               {"mark": {"type": "text", "align": "left", "baseline": "middle", "fontSize": 7, "color": "#111"}, "encoding": {"x": {"datum": 496.7, "type": "quantitative"}, "text": {"field": "s"}}},
               {"mark": {"type": "point", "shape": "M-0.95,-0.5L0.95,-0.5L0.95,0.5L-0.95,0.5Z", "size": 400, "filled": true, "fill": "#000", "stroke": "#8a8a8a", "strokeWidth": 1, "opacity": 1}, "encoding": {"x": {"datum": 606.8, "type": "quantitative"}}},
               {"mark": {"type": "point", "shape": "M-0.7,0.3L-0.25,-0.3L0.2,0.3L0.65,-0.3", "size": 400, "filled": false, "strokeWidth": 1, "opacity": 1}, "encoding": {"x": {"datum": 606.8, "type": "quantitative"}, "color": {"field": "s", "type": "nominal", "legend": null}}}
             ]}
          ]
        }
      ],
      "columns": 2,
      "spacing": {"row": 76, "column": 190},
      "bounds": "flush",
      "resolve": {"scale": {"x": "independent", "y": "independent", "color": "independent"}}
    }
  ]
}
